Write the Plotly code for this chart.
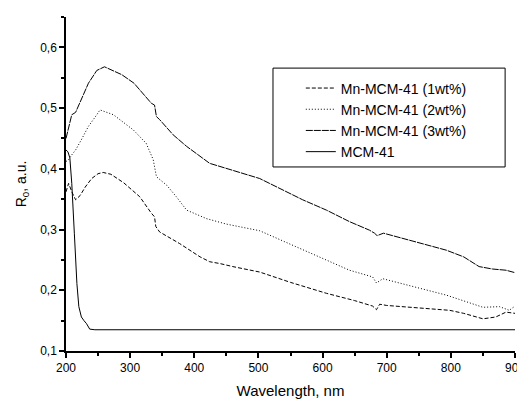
import plotly.graph_objects as go

# ---- data ----
wl_1wt = [200, 204, 210, 215, 222, 230, 240, 250, 258, 270, 290, 315, 333, 338, 340, 346,
          377, 409, 424, 440, 460, 502, 550, 606, 650, 678, 684, 689, 700, 741, 798, 820,
          850, 870, 886, 900]
r_1wt = [0.362, 0.376, 0.360, 0.349, 0.356, 0.370, 0.384, 0.392, 0.394, 0.391, 0.377, 0.354,
         0.327, 0.321, 0.305, 0.296, 0.277, 0.255, 0.247, 0.244, 0.239, 0.230, 0.213, 0.195,
         0.183, 0.174, 0.168, 0.177, 0.175, 0.172, 0.167, 0.162, 0.153, 0.156, 0.164, 0.162]

wl_2wt = [200, 204, 209, 215, 224, 235, 248, 253, 274, 305, 325, 336, 341, 357, 372, 388,
          419, 450, 502, 554, 606, 642, 678, 684, 694, 746, 793, 813, 850, 876, 891, 900]
r_2wt = [0.412, 0.415, 0.423, 0.431, 0.448, 0.470, 0.489, 0.497, 0.489, 0.464, 0.442, 0.415,
         0.387, 0.373, 0.354, 0.332, 0.318, 0.309, 0.298, 0.274, 0.250, 0.233, 0.222, 0.212,
         0.219, 0.205, 0.192, 0.185, 0.172, 0.173, 0.167, 0.174]

wl_3wt = [200, 204, 209, 215, 224, 235, 248, 260, 287, 306, 333, 338, 341, 346, 367, 388,
          424, 460, 502, 569, 606, 642, 673, 681, 685, 695, 720, 741, 793, 820, 844, 865,
          886, 900]
r_3wt = [0.450, 0.470, 0.489, 0.493, 0.514, 0.541, 0.562, 0.568, 0.555, 0.541, 0.508, 0.505,
         0.486, 0.481, 0.456, 0.437, 0.409, 0.398, 0.384, 0.349, 0.332, 0.313, 0.299, 0.294,
         0.290, 0.294, 0.287, 0.281, 0.266, 0.255, 0.239, 0.235, 0.233, 0.229]

wl_mcm = [200, 203, 206, 209, 213, 217, 220, 224, 228, 232, 237, 245, 900]
r_mcm = [0.431, 0.428, 0.418, 0.376, 0.294, 0.211, 0.173, 0.156, 0.150, 0.145, 0.136, 0.135,
         0.135]

series_names = ["Mn-MCM-41 (1wt%)", "Mn-MCM-41 (2wt%)", "Mn-MCM-41 (3wt%)", "MCM-41"]
x_ticks = [200, 300, 400, 500, 600, 700, 800, 900]
y_ticks = [0.1, 0.2, 0.3, 0.4, 0.5, 0.6]

# ---- figure ----
styles = ["4px,2px", "1px,2px", "7px,1px", "solid"]
data = [(wl_1wt, r_1wt), (wl_2wt, r_2wt), (wl_3wt, r_3wt), (wl_mcm, r_mcm)]

fig = go.Figure()
for (xs, ys), name, dash in zip(data, series_names, styles):
    fig.add_trace(go.Scatter(x=xs, y=ys, mode="lines", name=name,
                             line=dict(color="black", width=1, dash=dash)))

FONT = "Liberation Sans, Arial, sans-serif"
axis_common = dict(showline=True, linecolor="black", linewidth=1.5, showgrid=False,
                   zeroline=False, ticks="outside", ticklen=5, tickwidth=1.5,
                   tickcolor="black", mirror=False, automargin=False,
                   ticklabeloverflow="allow",
                   tickfont=dict(family=FONT, size=12, color="black"))

# the page body adds an 8px offset, so the figure is sized to fit the 525x399 window
fig.update_layout(
    width=517, height=391,
    margin=dict(l=58, r=10, t=9, b=48),
    paper_bgcolor="white", plot_bgcolor="white",
    separators=", ",
    font=dict(family=FONT, color="black"),
    xaxis=dict(range=[200, 900], tickvals=x_ticks,
               minor=dict(dtick=50, ticks="outside", ticklen=3, tickcolor="black", tickwidth=1.5),
               title=dict(text="Wavelength, nm", font=dict(family=FONT, size=15), standoff=12),
               **axis_common),
    yaxis=dict(range=[0.1, 0.65], tickvals=y_ticks, tickformat=".1f",
               minor=dict(dtick=0.05, ticks="outside", ticklen=3, tickcolor="black", tickwidth=1.5),
               title=dict(text="R<sub>0</sub>, a.u.", font=dict(family=FONT, size=14), standoff=10),
               **axis_common),
    showlegend=True,
    legend=dict(x=0.523, y=0.834, xanchor="left", yanchor="top",
                bgcolor="rgba(0,0,0,0)", borderwidth=0,
                font=dict(family=FONT, size=14, color="black"),
                tracegroupgap=0),
)

# legend frame
fig.add_shape(type="rect", xref="paper", yref="paper",
              x0=0.461, x1=0.978, y0=0.551, y1=0.847,
              line=dict(color="black", width=1), fillcolor="rgba(0,0,0,0)")

fig.write_html("out.html")
